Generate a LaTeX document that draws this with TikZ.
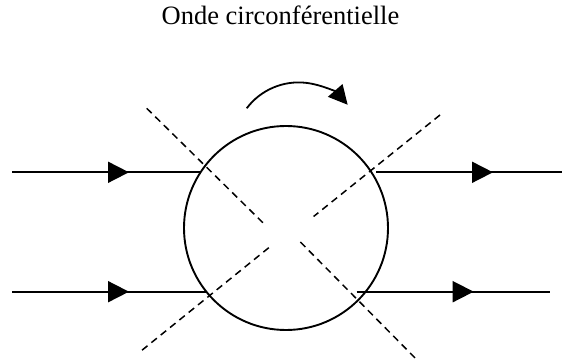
\documentclass[tikz,border=0pt]{standalone}
\usepackage{fontspec}
\setmainfont{Liberation Serif}
\usetikzlibrary{arrows.meta, decorations.markings}

\tikzset{
	flow/.style={line width=1.8pt, postaction={decorate},
		decoration={markings, mark=at position 117pt with {\arrow{Triangle[length=21pt, width=21pt]}}}},
	nodal line/.style={line width=1.5pt, dash pattern=on 7pt off 5pt},
}

\begin{document}
\begin{tikzpicture}[x=1pt, y=-1pt]
		\useasboundingbox (0, 0) rectangle (562, 363);
		
		\node[anchor=base, font=\fontsize{26.5}{30}\selectfont] (title) at (280.5, 25) {Onde circonférentielle};
		
		% the rotating section
		\node[draw, circle, line width=1.9pt, minimum size=204pt, inner sep=0pt, outer sep=0pt] (disc) at (286, 228) {};
		
		% rotation sense
		\coordinate (spin) at (246.7, 108.3);
		\draw[line width=1.8pt, -{Triangle[length=19pt, width=19pt]}] (spin)
		arc [start angle=143, end angle=41, radius=65pt];
		
		% nodal diameters
		\coordinate (nodeA1) at (146.7, 108.3);
		\coordinate (nodeA2) at (263.4, 223.2);
		\coordinate (nodeB1) at (440, 115);
		\coordinate (nodeB2) at (313.6, 216.5);
		\coordinate (nodeC1) at (268.8, 247.7);
		\coordinate (nodeC2) at (139.8, 352);
		\coordinate (nodeD1) at (300.4, 242);
		\coordinate (nodeD2) at (415.8, 358.7);
		\draw[nodal line] (nodeA1) -- (nodeA2);
		\draw[nodal line] (nodeB1) -- (nodeB2);
		\draw[nodal line] (nodeC1) -- (nodeC2);
		\draw[nodal line] (nodeD1) -- (nodeD2);
		
		% incoming flow (stops on the disc)
		\coordinate (inTop) at (12, 172.3);
		\coordinate (inBottom) at (12, 291.7);
		\draw[flow] (inTop) -- (inTop -| disc.146.9);
		\draw[flow] (inBottom) -- (inBottom -| disc.218.6);
		
		% outgoing flow
		\coordinate (outTopA) at (376, 172.3);
		\coordinate (outTopB) at (562, 172.3);
		\coordinate (outBottomA) at (356.7, 291.7);
		\coordinate (outBottomB) at (550, 291.7);
		\draw[flow] (outTopA) -- (outTopB);
		\draw[flow] (outBottomA) -- (outBottomB);
	\end{tikzpicture}
\end{document}
